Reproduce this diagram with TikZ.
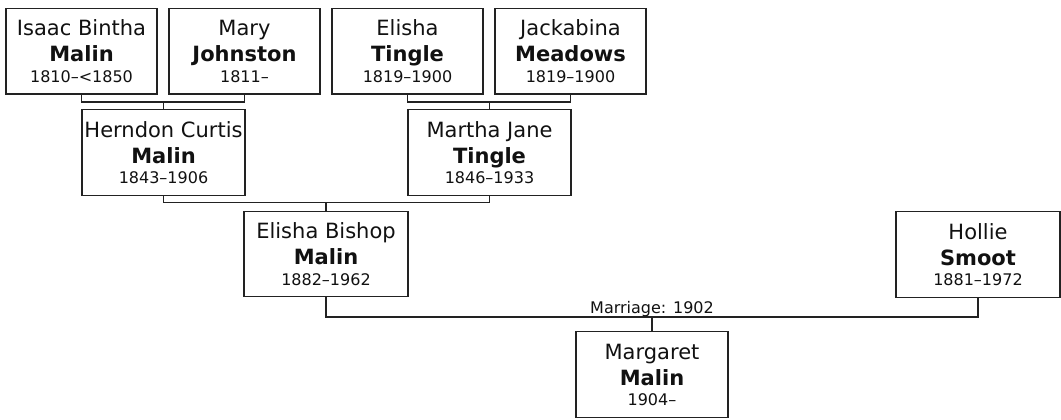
\documentclass[tikz,border=0pt]{standalone}
\usepackage{fontspec}
\setmainfont{DejaVu Sans}
\usetikzlibrary{calc}
\definecolor{lc}{HTML}{222222}
\definecolor{tc}{HTML}{111111}
\tikzset{
  pbox/.style={draw=lc, line width=1.3bp, fill=white, rectangle, inner sep=0pt, minimum height=85.5bp},
  nm/.style={anchor=base, inner sep=0pt, text=tc, font=\fontsize{21bp}{25bp}\selectfont},
  sn/.style={anchor=base, inner sep=0pt, text=tc, font=\fontsize{21bp}{25bp}\selectfont\bfseries},
  dt/.style={anchor=base, inner sep=0pt, text=tc, font=\fontsize{16bp}{19bp}\selectfont},
  conn/.style={draw=lc, line width=1.3bp},
}
% #1 name, #2 x, #3 y, #4 width, #5 first, #6 surname, #7 dates
\newcommand\personbox[7]{%
  \node[pbox, minimum width=#4] (#1) at (#2,#3) {};
  \node[nm] (#1-f) at ($(#1.north)+(0,28)$) {#5};
  \node[sn] (#1-s) at ($(#1.north)+(0,54)$) {#6};
  \node[dt] (#1-d) at ($(#1.north)+(0,74.5)$) {#7};
}
\begin{document}
\begin{tikzpicture}[x=1bp,y=-1bp]
\useasboundingbox (0,0) rectangle (1061,419);
\personbox{b1}{81.5}{51.25}{151bp}{Isaac Bintha}{Malin}{1810–<1850}
\personbox{b2}{244.5}{51.25}{151bp}{Mary}{Johnston}{1811–}
\personbox{b3}{407.5}{51.25}{151bp}{Elisha}{Tingle}{1819–1900}
\personbox{b4}{570.5}{51.25}{151bp}{Jackabina}{Meadows}{1819–1900}
\personbox{h}{163.5}{152.5}{163bp}{Herndon Curtis}{Malin}{1843–1906}
\personbox{m}{489.5}{152.5}{163bp}{Martha Jane}{Tingle}{1846–1933}
\personbox{e}{326}{254}{164bp}{Elisha Bishop}{Malin}{1882–1962}
\personbox{s}{978}{254.5}{164bp}{Hollie}{Smoot}{1881–1972}
\personbox{g}{652}{374.5}{152bp}{Margaret}{Malin}{1904–}
\coordinate (j1) at (163.5,102);
\coordinate (j2) at (489.5,102);
\coordinate (j3) at (326,202.5);
\coordinate (j4) at (652,317);
\draw[conn] (b1.south) |- (j1) -| (b2.south);
\draw[conn] (j1) -- (h.north);
\draw[conn] (b3.south) |- (j2) -| (b4.south);
\draw[conn] (j2) -- (m.north);
\draw[conn] (h.south) |- (j3) -| (m.south);
\draw[conn] (j3) -- (e.north);
\draw[conn] (e.south) |- (j4) -| (s.south);
\draw[conn] (j4) -- (g.north);
\node[dt] (mlabel) at (652,313) {Marriage: 1902};
\end{tikzpicture}
\end{document}
